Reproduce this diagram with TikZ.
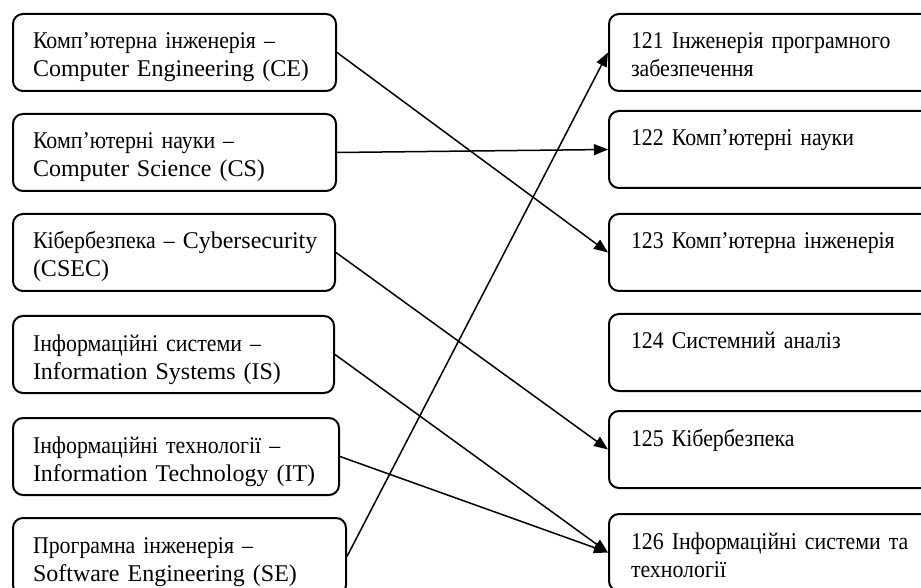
\documentclass[tikz,border=0pt]{standalone}
\usepackage{fontspec}
\setmainfont{Liberation Serif}
\newfontfamily\uafont[FakeStretch=0.91]{Liberation Serif}
\newcommand{\ua}[1]{{\uafont #1}}
\usetikzlibrary{arrows.meta}

\tikzset{
  specbox/.style={draw, line width=1pt, rounded corners=5pt, anchor=north west,
    align=left, inner xsep=10pt, inner ysep=7.7pt,
    text height=9.8pt, text depth=13.3pt,
    font=\fontsize{12}{14}\selectfont},
  link/.style={line width=0.75pt, -{Triangle[length=7pt,width=5.5pt]}}
}

\begin{document}
\begin{tikzpicture}[x=0.5pt, y=-0.5pt]
			\useasboundingbox (0,0) rectangle (921,588);
			% left column
			\node[specbox, text width=141.5pt] (ce) at (12,13) {\mbox{\ua{Комп’ютерна інженерія –}}\\\mbox{Computer Engineering (CE)}};
			\node[specbox, text width=141.5pt] (cs) at (12,113) {\mbox{\ua{Комп’ютерні науки –}}\\\mbox{Computer Science (CS)}};
			\node[specbox, text width=141pt] (csec) at (12,213) {\mbox{\ua{Кібербезпека –} Cybersecurity}\\\mbox{(CSEC)}};
			\node[specbox, text width=140.5pt] (is) at (12,315) {\mbox{\ua{Інформаційні системи –}}\\\mbox{Information Systems (IS)}};
			\node[specbox, text width=143pt] (it) at (12,417) {\mbox{\ua{Інформаційні технології –}}\\\mbox{Information Technology (IT)}};
			\node[specbox, text width=146.5pt] (se) at (12,517) {\mbox{\ua{Програмна інженерія –}}\\\mbox{Software Engineering (SE)}};
			% right column
			\node[specbox, inner xsep=11pt, text width=150pt] (s121) at (608,13) {\mbox{\ua{121 Інженерія програмного}}\\\mbox{\ua{забезпечення}}};
			\node[specbox, inner xsep=11pt, text width=150pt] (s122) at (608,110) {\mbox{\ua{122 Комп’ютерні науки}}};
			\node[specbox, inner xsep=11pt, text width=150pt] (s123) at (608,213) {\mbox{\ua{123 Комп’ютерна інженерія}}};
			\node[specbox, inner xsep=11pt, text width=150pt] (s124) at (608,313) {\mbox{\ua{124 Системний аналіз}}};
			\node[specbox, inner xsep=11pt, text width=150pt] (s125) at (608,410) {\mbox{\ua{125 Кібербезпека}}};
			\node[specbox, inner xsep=11pt, text width=150pt] (s126) at (608,513) {\mbox{\ua{126 Інформаційні системи та}}\\\mbox{\ua{технології}}};
			% links
			\draw[link] (ce.east) -- (s123.west);
			\draw[link] (cs.east) -- (s122.west);
			\draw[link] (csec.east) -- (s125.west);
			\draw[link] (is.east) -- (s126.west);
			\draw[link] (it.east) -- (s126.west);
			\draw[link] (se.east) -- (s121.west);
		\end{tikzpicture}
\end{document}
